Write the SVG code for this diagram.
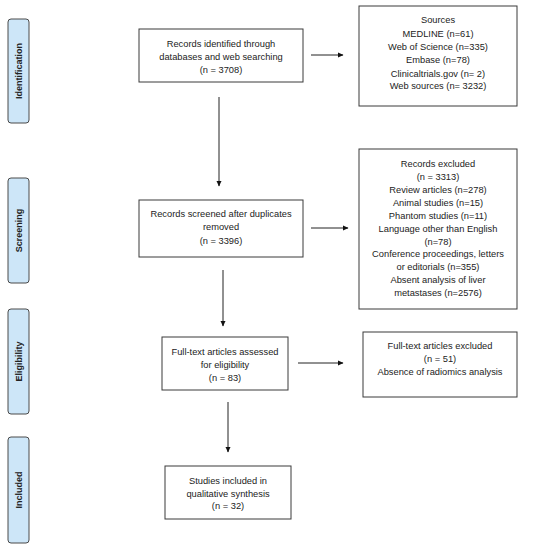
<svg xmlns="http://www.w3.org/2000/svg" width="545" height="550" viewBox="0 0 545 550">
<defs>
<style>
.box{fill:#fff;stroke:#3a3a3a;stroke-width:1}
.lab{fill:#cde6f8;stroke:#4a4a4a;stroke-width:1}
.t{font-family:"Liberation Sans",Arial,sans-serif;font-size:9.3px;fill:#222;text-anchor:middle}
.lt{font-family:"Liberation Sans",Arial,sans-serif;font-size:9px;font-weight:bold;fill:#222;text-anchor:middle}
.ln{stroke:#222;stroke-width:1;fill:none}
</style>
<marker id="ah" markerWidth="6" markerHeight="6" refX="5" refY="3" orient="auto" markerUnits="userSpaceOnUse">
<path d="M0,0.5 L5.5,3 L0,5.5 z" fill="#111"/>
</marker>
</defs>
<rect width="545" height="550" fill="#fff"/>

<g id="label-identification">
<rect class="lab" x="8" y="19" width="21" height="104" rx="3"/>
<text class="lt" transform="translate(21.5,71) rotate(-90)">Identification</text>
</g>
<g id="label-screening">
<rect class="lab" x="8" y="178" width="21" height="105" rx="3"/>
<text class="lt" transform="translate(21.5,230.5) rotate(-90)">Screening</text>
</g>
<g id="label-eligibility">
<rect class="lab" x="8" y="309" width="21" height="105" rx="3"/>
<text class="lt" transform="translate(21.5,361.5) rotate(-90)">Eligibility</text>
</g>
<g id="label-included">
<rect class="lab" x="8" y="437" width="21" height="106" rx="3"/>
<text class="lt" transform="translate(21.5,490) rotate(-90)">Included</text>
</g>

<g id="node-identified">
<rect class="box" x="139" y="29" width="164" height="53"/>
<text class="t" x="221" y="47">Records identified through</text>
<text class="t" x="221" y="60">databases and web searching</text>
<text class="t" x="221" y="73">(n = 3708)</text>
</g>
<g id="node-sources">
<rect class="box" x="359" y="6" width="158" height="100"/>
<text class="t" x="438" y="23">Sources</text>
<text class="t" x="438" y="36.5">MEDLINE (n=61)</text>
<text class="t" x="438" y="49.5">Web of Science (n=335)</text>
<text class="t" x="438" y="63">Embase (n=78)</text>
<text class="t" x="438" y="76.5">Clinicaltrials.gov (n= 2)</text>
<text class="t" x="438" y="89">Web sources (n= 3232)</text>
</g>
<g id="node-screened">
<rect class="box" x="139" y="200" width="164" height="57"/>
<text class="t" x="221" y="217">Records screened after duplicates</text>
<text class="t" x="221" y="230">removed</text>
<text class="t" x="221" y="244">(n = 3396)</text>
</g>
<g id="node-excluded">
<rect class="box" x="359" y="149" width="158" height="160"/>
<text class="t" x="438" y="167">Records excluded</text>
<text class="t" x="438" y="180">(n = 3313)</text>
<text class="t" x="438" y="193">Review articles (n=278)</text>
<text class="t" x="438" y="206">Animal studies (n=15)</text>
<text class="t" x="438" y="219">Phantom studies (n=11)</text>
<text class="t" x="438" y="232">Language other than English</text>
<text class="t" x="438" y="245">(n=78)</text>
<text class="t" x="438" y="257">Conference proceedings, letters</text>
<text class="t" x="438" y="270">or editorials (n=355)</text>
<text class="t" x="438" y="283">Absent analysis of liver</text>
<text class="t" x="438" y="296">metastases (n=2576)</text>
</g>
<g id="node-fulltext">
<rect class="box" x="162" y="337" width="126" height="53"/>
<text class="t" x="225" y="355">Full-text articles assessed</text>
<text class="t" x="225" y="368">for eligibility</text>
<text class="t" x="225" y="381">(n = 83)</text>
</g>
<g id="node-fulltext-excluded">
<rect class="box" x="363" y="332" width="154" height="65"/>
<text class="t" x="440" y="349">Full-text articles excluded</text>
<text class="t" x="440" y="362">(n = 51)</text>
<text class="t" x="440" y="375">Absence of radiomics analysis</text>
</g>
<g id="node-included">
<rect class="box" x="165" y="466" width="126" height="53"/>
<text class="t" x="228" y="484">Studies included in</text>
<text class="t" x="228" y="496.5">qualitative synthesis</text>
<text class="t" x="228" y="509">(n = 32)</text>
</g>

<g id="connectors">
<line class="ln" x1="311" y1="55" x2="343" y2="55" marker-end="url(#ah)"/>
<line class="ln" x1="219" y1="97" x2="219" y2="186" marker-end="url(#ah)"/>
<line class="ln" x1="311" y1="228" x2="348" y2="228" marker-end="url(#ah)"/>
<line class="ln" x1="223" y1="270" x2="223" y2="326" marker-end="url(#ah)"/>
<line class="ln" x1="298" y1="363" x2="343" y2="363" marker-end="url(#ah)"/>
<line class="ln" x1="228" y1="402" x2="228" y2="452" marker-end="url(#ah)"/>
</g>
</svg>
